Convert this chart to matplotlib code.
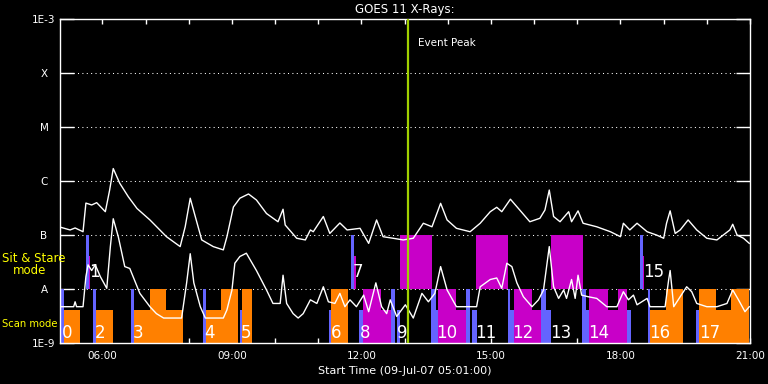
import numpy as np
import matplotlib
matplotlib.use('Agg')
import matplotlib.pyplot as plt


def hrs(s):
    h, m = s.split(':')
    return int(h) + int(m) / 60.0


# GOES 11 long channel (1-8 A), upper curve
long_time = ['05:02', '05:15', '05:22', '05:33', '05:37', '05:45', '05:52', '06:04', '06:10', '06:15',
             '06:24', '06:36', '06:48', '07:06', '07:29', '07:48', '07:55', '08:02', '08:09', '08:18',
             '08:34', '08:48', '08:53', '09:02', '09:11', '09:23', '09:34', '09:48', '10:04', '10:11',
             '10:14', '10:30', '10:42', '10:49', '10:53', '11:07', '11:16', '11:30', '11:40', '11:58',
             '12:10', '12:21', '12:30', '12:44', '12:58', '13:12', '13:26', '13:38', '13:50', '13:59',
             '14:12', '14:31', '14:45', '14:59', '15:08', '15:15', '15:27', '15:40', '15:54', '16:08',
             '16:15', '16:21', '16:27', '16:36', '16:48', '16:52', '17:01', '17:08', '17:27', '17:46',
             '18:00', '18:04', '18:13', '18:23', '18:37', '18:50', '19:00', '19:04', '19:09', '19:16',
             '19:23', '19:34', '19:46', '20:00', '20:14', '20:32', '20:36', '20:42', '20:51', '20:59']
long_flux = [1.39e-7, 1.24e-7, 1.35e-7, 1.15e-7, 3.9e-7, 3.6e-7, 3.97e-7, 2.7e-7, 6.8e-7, 1.7e-6,
             9.1e-7, 5.1e-7, 3.1e-7, 1.9e-7, 9.3e-8, 6.1e-8, 1.42e-7, 4.8e-7, 2.2e-7, 8.1e-8,
             6.1e-8, 5.3e-8, 9.3e-8, 3.3e-7, 4.8e-7, 5.75e-7, 4.45e-7, 2.5e-7, 1.76e-7, 3.0e-7,
             1.53e-7, 8.7e-8, 8.1e-8, 1.24e-7, 1.15e-7, 2.2e-7, 1.07e-7, 1.67e-7, 1.24e-7, 1.33e-7,
             7.0e-8, 1.9e-7, 9.3e-8, 8.7e-8, 8.1e-8, 8.7e-8, 1.65e-7, 1.42e-7, 3.86e-7, 1.9e-7,
             1.33e-7, 1.15e-7, 1.65e-7, 2.7e-7, 3.26e-7, 2.7e-7, 4.6e-7, 2.9e-7, 1.76e-7, 2.04e-7,
             2.9e-7, 6.8e-7, 2.2e-7, 1.76e-7, 2.7e-7, 1.76e-7, 2.8e-7, 1.65e-7, 1.42e-7, 1.15e-7,
             9.3e-8, 1.65e-7, 1.24e-7, 1.65e-7, 1.15e-7, 1.0e-7, 8.7e-8, 1.65e-7, 2.8e-7, 1.07e-7,
             1.24e-7, 1.9e-7, 1.24e-7, 8.7e-8, 8.1e-8, 1.24e-7, 1.58e-7, 1.0e-7, 8.7e-8, 7.0e-8]

# GOES 11 short channel (0.5-4 A), lower curve
short_time = ['05:02', '05:20', '05:22', '05:24', '05:33', '05:37', '05:40', '05:45', '05:50', '05:57',
              '06:06', '06:11', '06:15', '06:22', '06:31', '06:38', '06:52', '07:06', '07:15', '07:25',
              '07:50', '07:57', '08:02', '08:07', '08:16', '08:23', '08:48', '08:53', '09:00', '09:04',
              '09:11', '09:20', '09:34', '09:48', '09:57', '10:07', '10:11', '10:16', '10:25', '10:32',
              '10:39', '10:49', '10:58', '11:07', '11:14', '11:23', '11:30', '11:37', '11:44', '11:53',
              '12:03', '12:10', '12:20', '12:28', '12:35', '12:40', '12:49', '13:01', '13:12', '13:24',
              '13:33', '13:42', '13:50', '13:59', '14:12', '14:40', '14:45', '14:59', '15:08', '15:15',
              '15:22', '15:29', '15:36', '15:45', '15:57', '16:06', '16:13', '16:21', '16:27', '16:34',
              '16:41', '16:45', '16:52', '16:57', '17:01', '17:06', '17:15', '17:27', '17:41', '17:55',
              '18:04', '18:11', '18:18', '18:23', '18:37', '18:41', '19:02', '19:07', '19:09', '19:14',
              '19:23', '19:32', '19:39', '19:46', '20:00', '20:14', '20:28', '20:36', '20:44', '20:53',
              '20:59']
short_flux = [4.7e-9, 4.7e-9, 5.8e-9, 4.7e-9, 4.7e-9, 1.7e-8, 2.8e-8, 2.2e-8, 2.8e-8, 1.7e-8,
              1.03e-8, 6.1e-8, 2.0e-7, 9.3e-8, 2.6e-8, 2.4e-8, 8.3e-9, 4.7e-9, 3.5e-9, 2.9e-9,
              2.9e-9, 1.3e-8, 4.5e-8, 1.3e-8, 4.7e-9, 2.9e-9, 2.9e-9, 4.1e-9, 9.6e-9, 3.0e-8,
              4.0e-8, 4.6e-8, 2.2e-8, 9.6e-9, 5.4e-9, 5.4e-9, 1.8e-8, 5.4e-9, 3.5e-9, 2.9e-9,
              3.5e-9, 6.3e-9, 5.4e-9, 1.1e-8, 5.8e-9, 5.4e-9, 8.3e-9, 4.7e-9, 6.3e-9, 4.7e-9,
              7.7e-9, 3.8e-9, 1.3e-8, 4.7e-9, 3.5e-9, 6.3e-9, 3.1e-9, 5.1e-9, 2.9e-9, 8.3e-9,
              5.8e-9, 8.3e-9, 2.6e-8, 9.6e-9, 4.7e-9, 4.7e-9, 1.1e-8, 1.5e-8, 1.6e-8, 1.03e-8,
              3.0e-8, 2.6e-8, 1.3e-8, 7.2e-9, 4.7e-9, 6.3e-9, 9.6e-9, 6.1e-8, 1.1e-8, 6.7e-9,
              9.6e-9, 6.7e-9, 1.5e-8, 6.7e-9, 1.8e-8, 7.7e-9, 7.2e-9, 6.7e-9, 4.7e-9, 4.7e-9,
              8.9e-9, 6.3e-9, 7.7e-9, 5.1e-9, 6.7e-9, 4.7e-9, 4.7e-9, 1.5e-8, 2.2e-8, 4.7e-9,
              7.2e-9, 1.1e-8, 8.9e-9, 5.4e-9, 4.7e-9, 4.7e-9, 5.4e-9, 9.6e-9, 6.3e-9, 3.8e-9,
              4.7e-9]

# observing blocks: (start, end, level)
levels = {'tall': (1e-9, 1e-8), 'short': (1e-9, 4.1e-9), 'upper': (1e-8, 1e-7), 'thin': (1e-8, 4.1e-8)}

slew_blocks = [('05:02', '05:06', 'tall'), ('05:37', '05:41', 'upper'), ('05:47', '05:51', 'tall'),
               ('06:40', '06:44', 'tall'), ('08:20', '08:24', 'tall'), ('09:11', '09:14', 'short'),
               ('11:15', '11:18', 'short'), ('11:46', '11:50', 'upper'), ('11:57', '12:02', 'short'),
               ('12:41', '12:46', 'tall'), ('12:50', '12:54', 'short'), ('13:37', '13:43', 'tall'),
               ('13:43', '13:46', 'short'), ('14:25', '14:31', 'tall'), ('14:33', '14:40', 'short'),
               ('15:23', '15:27', 'tall'), ('15:23', '15:32', 'short'), ('16:09', '16:16', 'tall'),
               ('16:17', '16:24', 'short'), ('17:07', '17:12', 'tall'), ('17:12', '17:16', 'short'),
               ('18:09', '18:14', 'short'), ('18:27', '18:31', 'upper'), ('18:38', '18:41', 'tall'),
               ('19:45', '19:49', 'short')]

scan_blocks = [('05:06', '05:29', 'short'), ('05:51', '06:14', 'short'), ('06:44', '07:06', 'short'),
               ('07:06', '07:29', 'tall'), ('07:29', '07:52', 'short'), ('08:24', '08:45', 'short'),
               ('08:45', '09:08', 'tall'), ('09:14', '09:28', 'tall'), ('11:18', '11:41', 'tall'),
               ('18:41', '19:03', 'short'), ('19:03', '19:27', 'tall'), ('19:49', '20:13', 'tall'),
               ('20:13', '20:33', 'short'), ('20:33', '20:58', 'tall')]

stare_blocks = [('05:40', '05:43', 'thin'), ('11:50', '11:52', 'thin'), ('12:02', '12:27', 'tall'),
                ('12:27', '12:41', 'short'), ('12:54', '13:38', 'upper'), ('13:46', '14:12', 'tall'),
                ('14:12', '14:25', 'short'), ('14:39', '15:23', 'upper'), ('15:32', '15:57', 'tall'),
                ('15:57', '16:09', 'short'), ('16:23', '17:08', 'upper'), ('17:16', '17:42', 'tall'),
                ('17:42', '17:56', 'short'), ('17:56', '18:09', 'tall'), ('18:30', '18:33', 'thin')]

block_labels = [('0', '05:04', 'low'), ('1', '05:41', 'up'), ('2', '05:49', 'low'), ('3', '06:42', 'low'),
                ('4', '08:21', 'low'), ('5', '09:12', 'low'), ('6', '11:17', 'low'), ('7', '11:48', 'up'),
                ('8', '11:58', 'low'), ('9', '12:50', 'low'), ('10', '13:44', 'low'), ('11', '14:38', 'low'),
                ('12', '15:30', 'low'), ('13', '16:22', 'low'), ('14', '17:15', 'low'), ('15', '18:31', 'up'),
                ('16', '18:40', 'low'), ('17', '19:49', 'low')]

event_peak = '13:04'

plt.rcParams['font.family'] = 'DejaVu Sans'
fig = plt.figure(figsize=(7.68, 3.84), dpi=100, facecolor='black')
ax = fig.add_axes([60 / 768, 41 / 384, 690 / 768, 324 / 384])
ax.set_facecolor('black')
ax.set_yscale('log')
ax.set_ylim(1e-9, 1e-3)
ax.set_xlim(hrs('05:01'), 21)

# dotted class levels
for lev in [1e-8, 1e-7, 1e-6, 1e-5, 1e-4]:
    ax.axhline(lev, color='white', lw=0.75, ls=(0, (1, 3.2)), zorder=1)


def draw_blocks(blocks, col):
    for b in blocks:
        lo, hi = levels[b[2]]
        t0 = hrs(b[0])
        t1 = hrs(b[1])
        ax.bar(t0, hi - lo, bottom=lo, width=t1 - t0, align='edge', color=col, linewidth=0, zorder=2)


draw_blocks(scan_blocks, '#ff8000')
draw_blocks(stare_blocks, '#c800c8')
draw_blocks(slew_blocks, '#6464ff')

ax.plot([hrs(t) for t in long_time], long_flux, color='white', lw=1, zorder=3)
ax.plot([hrs(t) for t in short_time], short_flux, color='white', lw=1, zorder=3)

for txt, t, zone in block_labels:
    yy = 1.55e-9 if zone == 'low' else 2.07e-8
    ax.text(hrs(t), yy, txt, color='white', fontsize=12, ha='left', va='center', zorder=4)

ax.axvline(hrs(event_peak), color='#a0d000', lw=1.6, zorder=5)
ax.text(hrs(event_peak) + 0.25, 10 ** (-3 - 24 / 54), 'Event Peak', color='white', fontsize=7.5,
        ha='left', va='center')

# axes styling
for s in ax.spines.values():
    s.set_color('white')
    s.set_linewidth(1)
ax.set_yticks([1e-9, 1e-8, 1e-7, 1e-6, 1e-5, 1e-4, 1e-3])
ax.set_yticklabels(['1E-9', 'A', 'B', 'C', 'M', 'X', '1E-3'])
ax.yaxis.set_minor_locator(matplotlib.ticker.NullLocator())
for lbl in ax.get_yticklabels():
    lbl.set_horizontalalignment('center')
ax.tick_params(axis='y', which='major', direction='in', length=10, width=1, colors='white',
               labelsize=7.5, pad=11.5, left=True, right=True)
ax.set_xticks([6, 9, 12, 15, 18, 21])
ax.set_xticklabels(['06:00', '09:00', '12:00', '15:00', '18:00', '21:00'])
ax.set_xticks(np.arange(6, 22), minor=True)
ax.tick_params(axis='x', which='both', direction='in', length=3.5, width=1, colors='white',
               labelsize=7.5, pad=6, top=True, bottom=True)

ax.set_title('GOES 11 X-Rays:', color='white', fontsize=8.5, pad=4)
ax.set_xlabel('Start Time (09-Jul-07 05:01:00)', color='white', fontsize=8, labelpad=3)

fig.text(2 / 768, 1 - 259 / 384, 'Sit & Stare', color='yellow', fontsize=8.5, ha='left', va='center')
fig.text(13 / 768, 1 - 271 / 384, 'mode', color='yellow', fontsize=8.5, ha='left', va='center')
fig.text(2 / 768, 1 - 324 / 384, 'Scan mode', color='yellow', fontsize=7.2, ha='left', va='center')

fig.savefig('out.png', dpi=100, facecolor='black')
